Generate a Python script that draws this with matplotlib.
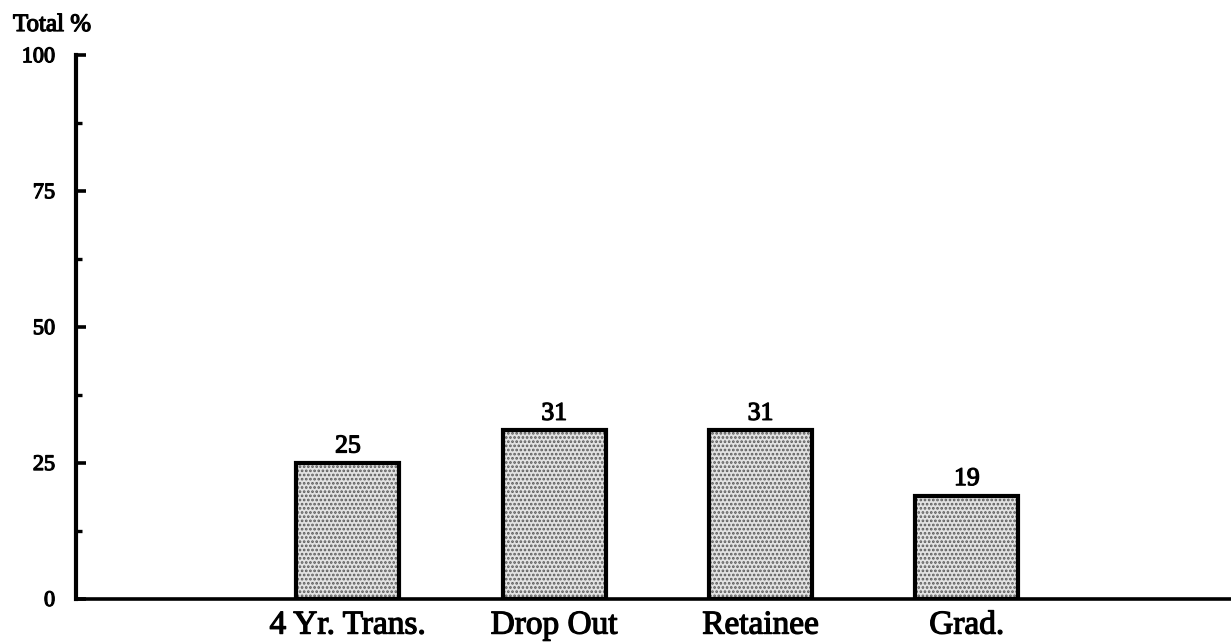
import matplotlib
matplotlib.use("Agg")
import matplotlib.pyplot as plt
import matplotlib.patheffects as pe
from matplotlib.ticker import MultipleLocator
import numpy as np

# Outcome categories and their share of the total (%)
categories = ["4 Yr. Trans.", "Drop Out", "Retainee", "Grad."]
values = [25, 31, 31, 19]
y_ticks = [0, 25, 50, 75, 100]
y_label = "Total %"

plt.rcParams["font.family"] = ["Liberation Serif", "DejaVu Serif"]
plt.rcParams["hatch.linewidth"] = 1.3
heavy = [pe.withStroke(linewidth=0.9, foreground="black")]

fig = plt.figure(figsize=(12.31, 6.42), dpi=100)
ax = fig.add_axes([0.0617, 0.067, 0.9383, 0.847])

x = np.arange(len(categories))
width = 0.50

# stippled fill, then a heavy black outline on top
ax.bar(x, values, width=width, color="#e2e2e2", edgecolor="#5a5a5a",
       hatch="....", linewidth=0, zorder=2)
ax.bar(x, values, width=width, fill=False, edgecolor="black",
       linewidth=3.0, zorder=3)

for xi, v in zip(x, values):
    ax.annotate(f"{v}", (xi, v), xytext=(0, 4), textcoords="offset points",
                ha="center", va="bottom", fontsize=18.5, path_effects=heavy)

ax.set_xlim(-1.318, 4.28)
ax.set_ylim(0, 100)

ax.set_yticks(y_ticks)
ax.set_yticklabels([str(t) for t in y_ticks], fontsize=16)
for lbl in ax.get_yticklabels():
    lbl.set_path_effects(heavy)
ax.yaxis.set_minor_locator(MultipleLocator(12.5))
ax.tick_params(axis="y", which="major", direction="in", length=7, width=2.6, pad=15)
ax.tick_params(axis="y", which="minor", direction="in", length=4, width=2.4)

ax.set_xticks(x)
ax.set_xticklabels(categories, fontsize=24)
for lbl in ax.get_xticklabels():
    lbl.set_path_effects(heavy)
ax.tick_params(axis="x", length=0, pad=8)

for side in ("top", "right"):
    ax.spines[side].set_visible(False)
ax.spines["left"].set_linewidth(3.0)
ax.spines["bottom"].set_linewidth(2.6)

fig.text(13 / 1231, 1 - 31 / 642, y_label, fontsize=18, ha="left", va="baseline",
         path_effects=heavy)

fig.savefig("out.png", dpi=100, facecolor="white")
